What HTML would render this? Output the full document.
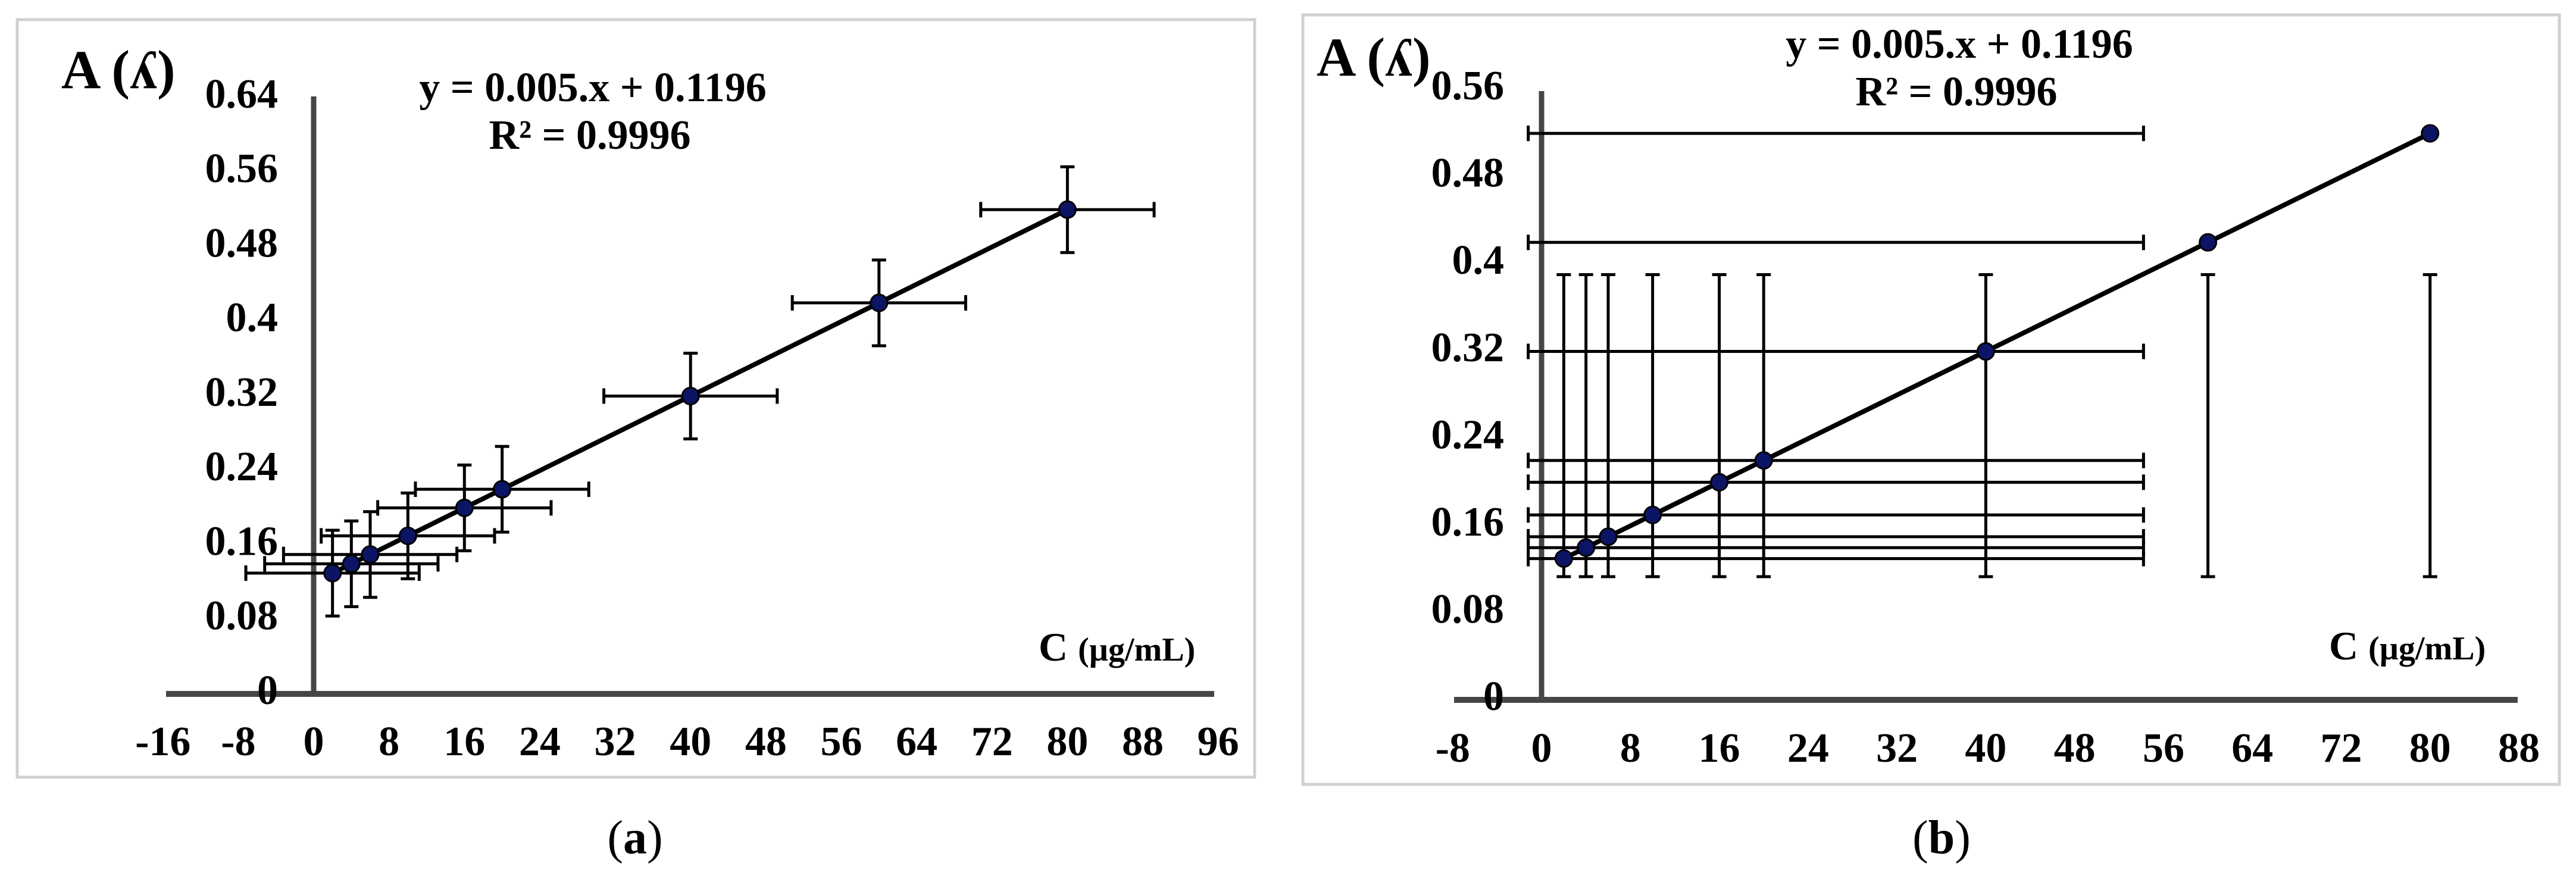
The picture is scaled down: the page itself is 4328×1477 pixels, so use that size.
<!DOCTYPE html>
<html><head><meta charset="utf-8"><style>
html,body{margin:0;padding:0;background:#fff;}
svg{display:block;}
text{font-family:"Liberation Serif","DejaVu Serif",serif;fill:#000;}
</style></head><body>
<svg id="fig" width="4328" height="1477" viewBox="0 0 4328 1477" xmlns="http://www.w3.org/2000/svg">
<rect x="29" y="33" width="2079" height="1273" fill="#fff" stroke="#d0d0d0" stroke-width="5"/>
<rect x="2189" y="25" width="2111" height="1293" fill="#fff" stroke="#d0d0d0" stroke-width="5"/>
<g id="ga"></g>
<g id="gb"></g>
<text x="1067" y="1434" font-size="80" text-anchor="middle">(<tspan font-weight="bold">a</tspan>)</text>
<text x="3262" y="1434" font-size="80" text-anchor="middle">(<tspan font-weight="bold">b</tspan>)</text>
</svg>
<script>
// shared data
const concentrations = [2, 4, 6, 10, 16, 20, 40, 60, 80];
const absorbances = [0.1296, 0.1396, 0.1496, 0.1696, 0.1996, 0.2196, 0.3196, 0.4196, 0.5196];
// chart a error bars
const aYErr = [0.046, 0.046, 0.046, 0.046, 0.046, 0.046, 0.046, 0.046, 0.046];
const aXErr = [9.2, 9.2, 9.2, 9.2, 9.2, 9.2, 9.2, 9.2, 9.2];
const aXTicks = [-16, -8, 0, 8, 16, 24, 32, 40, 48, 56, 64, 72, 80, 88, 96];
const aYTicks = ["0", "0.08", "0.16", "0.24", "0.32", "0.4", "0.48", "0.56", "0.64"];
// chart b error bars (fixed-range bars)
const bXErrLow = [-1.2, -1.2, -1.2, -1.2, -1.2, -1.2, -1.2, -1.2, -1.2];
const bXErrHigh = [54.2, 54.2, 54.2, 54.2, 54.2, 54.2, 54.2, 54.2, 54.2];
const bYErrLow = [0.113, 0.113, 0.113, 0.113, 0.113, 0.113, 0.113, 0.113, 0.113];
const bYErrHigh = [0.39, 0.39, 0.39, 0.39, 0.39, 0.39, 0.39, 0.39, 0.39];
const bXTicks = [-8, 0, 8, 16, 24, 32, 40, 48, 56, 64, 72, 80, 88];
const bYTicks = ["0", "0.08", "0.16", "0.24", "0.32", "0.4", "0.48", "0.56"];
const fitSlope = 0.005, fitIntercept = 0.1196;

const NS = "http://www.w3.org/2000/svg";
function mk(parent, tag, attrs, txt) {
  const e = document.createElementNS(NS, tag);
  for (const k in attrs) e.setAttribute(k, attrs[k]);
  if (txt !== undefined) e.textContent = txt;
  parent.appendChild(e);
  return e;
}

function drawChart(g, cfg) {
  const X = v => cfg.x0 + v * cfg.kx;
  const Y = v => cfg.y0 - v * cfg.ky;
  let e = mk(g, "line", {x1: cfg.axL, x2: cfg.axR, y1: cfg.y0, y2: cfg.y0, stroke: "#464646", "stroke-width": 10});
  
  
  e = mk(g, "line", {x1: cfg.x0, x2: cfg.x0, y1: cfg.axT, y2: cfg.y0, stroke: "#464646", "stroke-width": 9});
  
  
  cfg.xTicks.forEach(t => {
    const el = mk(g, "text", {x: X(t), y: cfg.xLabY, "font-size": 70, "font-weight": "bold", "text-anchor": "middle"}, String(t));
    
    
  });
  cfg.yTicks.forEach(t => {
    const el = mk(g, "text", {x: cfg.yLabX, y: Y(parseFloat(t)) + 17, "font-size": 70, "font-weight": "bold", "text-anchor": "end"}, t);
    
    
  });
  concentrations.forEach((c, i) => {
    const a = absorbances[i];
    const xl = cfg.xLo(i), xh = cfg.xHi(i), yl = cfg.yLo(i), yh = cfg.yHi(i);
    const eb = mk(g, "g", {stroke: "#000", "stroke-width": 5});
    
    
    mk(eb, "line", {x1: X(xl), x2: X(xh), y1: Y(a), y2: Y(a)});
    mk(eb, "line", {x1: X(xl), x2: X(xl), y1: Y(a) - 13, y2: Y(a) + 13});
    mk(eb, "line", {x1: X(xh), x2: X(xh), y1: Y(a) - 13, y2: Y(a) + 13});
    mk(eb, "line", {x1: X(c), x2: X(c), y1: Y(yl), y2: Y(yh)});
    mk(eb, "line", {x1: X(c) - 12, x2: X(c) + 12, y1: Y(yl), y2: Y(yl)});
    mk(eb, "line", {x1: X(c) - 12, x2: X(c) + 12, y1: Y(yh), y2: Y(yh)});
  });
  const x1 = concentrations[0], x2 = concentrations[concentrations.length - 1];
  e = mk(g, "line", {x1: X(x1), x2: X(x2), y1: Y(fitSlope * x1 + fitIntercept), y2: Y(fitSlope * x2 + fitIntercept), stroke: "#000", "stroke-width": 8});
  
  
  concentrations.forEach((c, i) => {
    const p = mk(g, "circle", {cx: X(c), cy: Y(absorbances[i]), r: 14, fill: "#0c1466", stroke: "#000", "stroke-width": 3});
    
    
  });
  e = mk(g, "text", {x: cfg.aX, y: cfg.aY, "font-size": 92, "font-weight": "bold"}, "A (ʎ)");
  
  
  e = mk(g, "text", {x: cfg.eqX, y: cfg.eqY, "font-size": 70, "font-weight": "bold", "text-anchor": "middle"}, "y =  0.005.x + 0.1196");
  
  
  e = mk(g, "text", {x: cfg.eqX - 5, y: cfg.eqY + 80, "font-size": 70, "font-weight": "bold", "text-anchor": "middle"}, "R² =  0.9996");
  
  
  e = mk(g, "text", {x: cfg.cX, y: cfg.cY, "font-size": 68, "font-weight": "bold"});
  
  
  mk(e, "tspan", {}, "C ");
  mk(e, "tspan", {"font-size": 56}, "(µg/mL)");
}

drawChart(document.getElementById("ga"), {
  x0: 527, kx: 15.83, y0: 1166, ky: 1566, axL: 279, axR: 2040, axT: 162,
  xTicks: aXTicks, yTicks: aYTicks, xLabY: 1269, yLabX: 467,
  xLo: i => concentrations[i] - aXErr[i], xHi: i => concentrations[i] + aXErr[i],
  yLo: i => absorbances[i] - aYErr[i], yHi: i => absorbances[i] + aYErr[i],
  aX: 103, aY: 148, eqX: 996, eqY: 170, cX: 1745, cY: 1110
});
drawChart(document.getElementById("gb"), {
  x0: 2590, kx: 18.66, y0: 1176, ky: 1832, axL: 2443, axR: 4230, axT: 153,
  xTicks: bXTicks, yTicks: bYTicks, xLabY: 1280, yLabX: 2527,
  xLo: i => bXErrLow[i], xHi: i => bXErrHigh[i],
  yLo: i => bYErrLow[i], yHi: i => bYErrHigh[i],
  aX: 2212, aY: 127, eqX: 3292, eqY: 97, cX: 3913, cY: 1108
});
</script>
</body></html>
